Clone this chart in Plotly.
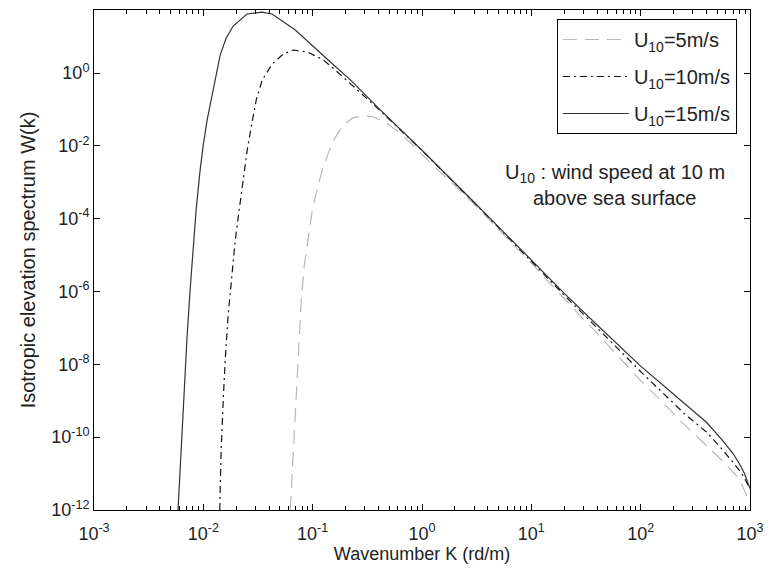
import plotly.graph_objects as go

# ---------------- data ----------------
k_u15 = [5.87e-3, 6.27e-3, 6.67e-3, 7.11e-3, 7.57e-3, 8.07e-3, 8.59e-3, 9.35e-3, 9.95e-3,
         1.084e-2, 1.180e-2, 1.309e-2, 1.426e-2, 1.618e-2, 1.875e-2, 2.506e-2, 3.436e-2,
         4.246e-2, 6.934e-2, 0.1452, 0.2213, 0.4169, 1.0, 3.0, 10.0, 20.0, 40.0, 100.0,
         250.0, 400.0, 560.0, 700.0, 800.0, 890.0, 1000.0]
w_u15 = [1e-12, 4.37e-11, 2.69e-9, 6.31e-8, 1.10e-6, 1.35e-5, 1.74e-4, 2.19e-3, 9.77e-3,
         5.13e-2, 0.182, 1.0, 3.09, 9.12, 19.5, 41.7, 46.8,
         41.7, 15.1, 2.0, 0.646, 9.55e-2, 7.59e-3, 2.82e-4, 7.24e-6, 8.91e-7, 1.20e-7, 8.91e-9,
         8.51e-10, 2.57e-10, 8.13e-11, 3.55e-11, 1.86e-11, 1.0e-11, 3.9e-12]

k_u10 = [1.413e-2, 1.455e-2, 1.521e-2, 1.585e-2, 1.687e-2, 1.799e-2, 1.959e-2, 2.128e-2,
         2.317e-2, 2.518e-2, 2.742e-2, 3.048e-2, 3.459e-2, 4.266e-2, 5.383e-2, 6.653e-2,
         8.933e-2, 0.1253, 0.1683, 0.2735, 0.4169, 1.0, 3.0, 10.0, 20.0, 40.0, 100.0,
         250.0, 400.0, 560.0, 700.0, 800.0, 890.0, 1000.0]
w_u10 = [1e-12, 4.37e-11, 1.05e-9, 1.32e-8, 2.24e-7, 2.04e-6, 2.57e-5, 1.74e-4,
         1.15e-3, 7.59e-3, 3.31e-2, 0.182, 0.646, 1.78, 3.31, 4.27,
         3.80, 2.29, 1.07, 0.282, 9.12e-2, 7.41e-3, 2.75e-4, 6.76e-6, 7.94e-7, 1.0e-7, 6.31e-9,
         4.47e-10, 1.38e-10, 4.57e-11, 2.04e-11, 1.23e-11, 7.6e-12, 3.8e-12]

k_u5 = [6.24e-2, 6.51e-2, 6.79e-2, 7.08e-2, 7.40e-2, 7.87e-2, 8.39e-2, 9.12e-2, 9.93e-2,
        0.1104, 0.1225, 0.1390, 0.1614, 0.1910, 0.2307, 0.2851, 0.3516, 0.4634, 0.6095,
        0.7852, 1.0, 3.0, 10.0, 20.0, 40.0, 100.0, 160.0, 250.0, 400.0, 560.0, 800.0, 950.0]
w_u5 = [1e-12, 1.23e-11, 1.55e-10, 1.95e-9, 2.45e-8, 5.75e-7, 5.37e-6, 3.55e-5, 1.74e-4,
        6.92e-4, 2.19e-3, 6.31e-3, 1.74e-2, 3.72e-2, 5.75e-2, 6.76e-2, 6.38e-2, 4.47e-2, 2.40e-2,
        1.20e-2, 5.75e-3, 2.51e-4, 6.03e-6, 6.31e-7, 7.08e-8, 3.55e-9, 8.91e-10, 2.24e-10,
        6.03e-11, 2.24e-11, 7.08e-12, 2.2e-12]

series_names = ["U<sub>10</sub>=5m/s", "U<sub>10</sub>=10m/s", "U<sub>10</sub>=15m/s"]

x_tickvals = [1e-3, 1e-2, 1e-1, 1e0, 1e1, 1e2, 1e3]
x_ticktext = ["10<sup>-3</sup>", "10<sup>-2</sup>", "10<sup>-1</sup>", "10<sup>0</sup>",
              "10<sup>1</sup>", "10<sup>2</sup>", "10<sup>3</sup>"]
y_tickvals = [1e-12, 1e-10, 1e-8, 1e-6, 1e-4, 1e-2, 1e0]
y_ticktext = ["10<sup>-12</sup>", "10<sup>-10</sup>", "10<sup>-8</sup>", "10<sup>-6</sup>",
              "10<sup>-4</sup>", "10<sup>-2</sup>", "10<sup>0</sup>"]

# ---------------- figure ----------------
FONT = "Liberation Sans, Arial, sans-serif"
TXT = "#222222"
fig = go.Figure()
fig.add_trace(go.Scatter(x=k_u5, y=w_u5, mode="lines", name=series_names[0], legendgroup="a",
                         line=dict(color="#b8b8b8", width=1.2, dash="14px,8px")))
fig.add_trace(go.Scatter(x=k_u10, y=w_u10, mode="lines", name=series_names[1], legendgroup="b",
                         line=dict(color="#111111", width=1.2, dash="7px,4px,2px,4px")))
fig.add_trace(go.Scatter(x=k_u15, y=w_u15, mode="lines", name=series_names[2], legendgroup="c",
                         line=dict(color="#333333", width=1.2)))

minor_x = []
for dec in [1e-3, 1e-2, 1e-1, 1e0, 1e1, 1e2]:
    for m in range(2, 10):
        minor_x.append(m * dec)

fig.update_layout(
    width=778, height=570,
    margin=dict(l=94, r=28, t=10, b=60),
    paper_bgcolor="white", plot_bgcolor="white",
    font=dict(family=FONT, size=18, color=TXT),
    showlegend=True,
    legend=dict(x=0.98, y=0.982, xanchor="right", yanchor="top",
                bordercolor="#000000", borderwidth=1, bgcolor="white",
                font=dict(size=20, color=TXT), tracegroupgap=8,
                traceorder="grouped", itemwidth=66),
    xaxis=dict(type="log", range=[-3, 3], tickvals=x_tickvals, ticktext=x_ticktext,
               ticks="inside", ticklen=6, tickcolor="#000", showline=True, linecolor="#000",
               linewidth=1, mirror="ticks", showgrid=False, zeroline=False,
               tickfont=dict(size=18), ticklabelstandoff=7,
               minor=dict(ticks="inside", ticklen=4, tickcolor="#000", tickvals=minor_x,
                          showgrid=False),
               title=dict(text="Wavenumber K (rd/m)", font=dict(size=18), standoff=0)),
    yaxis=dict(type="log", range=[-12, 1.73], tickvals=y_tickvals, ticktext=y_ticktext,
               ticks="inside", ticklen=6, tickcolor="#000", showline=True, linecolor="#000",
               linewidth=1, mirror="ticks", showgrid=False, zeroline=False,
               tickfont=dict(size=18),
               title=dict(text="Isotropic elevation spectrum W(k)", font=dict(size=20), standoff=10)),
)

fig.add_annotation(xref="paper", yref="paper", x=0.794, y=1 - (173 - 10) / 500,
                   text="U<sub>10</sub> : wind speed at 10 m", showarrow=False,
                   font=dict(size=20, color=TXT), xanchor="center", yanchor="middle")
fig.add_annotation(xref="paper", yref="paper", x=0.794, y=1 - (198 - 10) / 500,
                   text="above sea surface", showarrow=False,
                   font=dict(size=20, color=TXT), xanchor="center", yanchor="middle")

fig.write_html("out.html")
